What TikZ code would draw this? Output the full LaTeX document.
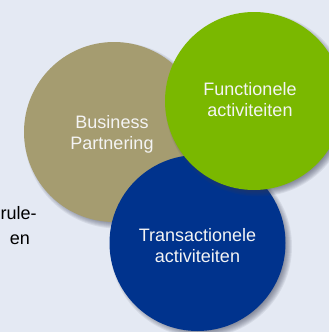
\documentclass[tikz,border=0pt]{standalone}
\usepackage{fontspec}
\setmainfont{Liberation Sans}
\definecolor{bgc}{HTML}{E4E9F3}
\definecolor{tanc}{HTML}{A59C70}
\definecolor{greenc}{HTML}{7AB800}
\definecolor{bluec}{HTML}{00338D}
\definecolor{shadc}{HTML}{3A3F55}
\definecolor{txtc}{HTML}{F4F4F4}
\newcommand\myshadow[3]{%
  \foreach \d in {-4,-3,...,3} {\fill[shadc,opacity=0.09] (#1+3.5,#2+3.5) circle (#3+\d);}}
\tikzset{
  disc/.style={circle,inner sep=0pt,minimum size=#1},
  lbl/.style={text=txtc,align=center,font=\fontsize{18}{21}\selectfont},
  side/.style={text=black,font=\fontsize{18}{21}\selectfont,inner sep=0pt}
}
\begin{document}
\begin{tikzpicture}[x=1pt,y=-1pt]
\useasboundingbox (0,0) rectangle (329,332);
\clip (0,0) rectangle (329,332);
\fill[bgc] (0,0) rectangle (329,332);
% side text
\node[side,anchor=base east] (t1) at (36.8,219) {rule-};
\node[side,anchor=base east] (t2) at (30.2,244) {en};
% tan
\myshadow{114}{132}{90}
\node[disc=180pt,fill=tanc] (bp) at (114,132) {};
% blue
\myshadow{197.5}{243}{88}
\node[disc=176pt,fill=bluec] (ta) at (197.5,243) {};
% green
\myshadow{254}{101}{89}
\node[disc=178pt,fill=greenc] (fa) at (254,101) {};
% labels
\node[lbl] (bpl) at (112,134) {Business\\Partnering};
\node[lbl] (fal) at (250,100) {Functionele\\activiteiten};
\node[lbl] (tal) at (197.5,246) {Transactionele\\activiteiten};
\end{tikzpicture}
\end{document}
